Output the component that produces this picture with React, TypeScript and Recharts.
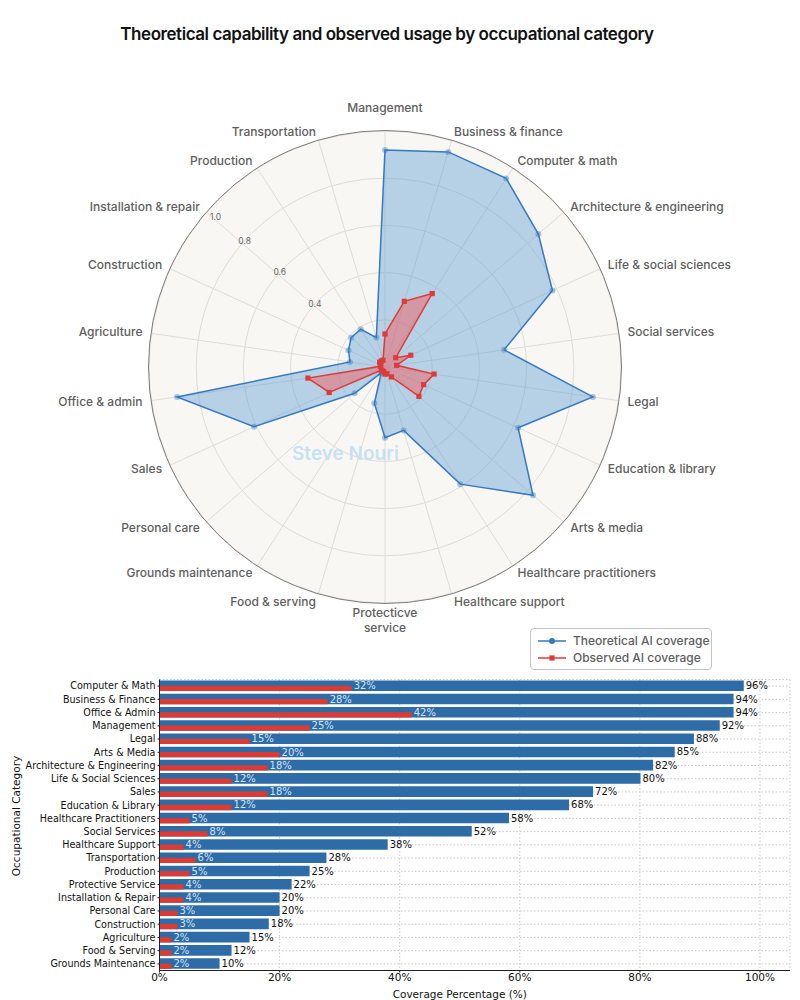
import {
    RadarChart,
    Radar,
    PolarGrid,
    PolarAngleAxis,
    PolarRadiusAxis,
    Legend,
    BarChart,
    Bar,
    XAxis,
    YAxis,
    CartesianGrid,
    LabelList,
} from "recharts";

// radar (clockwise from the top)
const radarCategories = [
    "Management",
    "Business & finance",
    "Computer & math",
    "Architecture & engineering",
    "Life & social sciences",
    "Social services",
    "Legal",
    "Education & library",
    "Arts & media",
    "Healthcare practitioners",
    "Healthcare support",
    "Protecticve\nservice",
    "Food & serving",
    "Grounds maintenance",
    "Personal care",
    "Sales",
    "Office & admin",
    "Agriculture",
    "Construction",
    "Installation & repair",
    "Production",
    "Transportation",
];
const radarTheoretical = [
    0.92, 0.95, 0.95, 0.86, 0.78, 0.51, 0.89, 0.62, 0.83, 0.59, 0.28, 0.3, 0.16, 0.03, 0.17,
    0.61, 0.89, 0.15, 0.17, 0.19, 0.19, 0.13,
];
const radarObserved = [
    0.14, 0.29, 0.37, 0.06, 0.12, 0.05, 0.21, 0.18, 0.19, 0.05, 0.03, 0.03, 0.02, 0.02, 0.02,
    0.26, 0.33, 0.02, 0.02, 0.03, 0.03, 0.03,
];
const radiusTicks = [0, 0.2, 0.4, 0.6, 0.8, 1.0];
const seriesNames = ["Theoretical AI coverage", "Observed AI coverage"];

// bars (top to bottom)
const barCategories = [
    "Computer & Math",
    "Business & Finance",
    "Office & Admin",
    "Management",
    "Legal",
    "Arts & Media",
    "Architecture & Engineering",
    "Life & Social Sciences",
    "Sales",
    "Education & Library",
    "Healthcare Practitioners",
    "Social Services",
    "Healthcare Support",
    "Transportation",
    "Production",
    "Protective Service",
    "Installation & Repair",
    "Personal Care",
    "Construction",
    "Agriculture",
    "Food & Serving",
    "Grounds Maintenance",
];
const barTheoretical = [
    97.3, 95.6, 95.6, 93.3, 89, 85.8, 82.2, 80.1, 72.2, 68.2, 58.2, 52, 38, 27.8, 25, 22, 20, 20, 18.2,
    15, 12, 10,
];
const barTheoreticalLabels = [
    "96%", "94%", "94%", "92%", "88%", "85%", "82%", "80%", "72%", "68%", "58%", "52%", "38%", "28%",
    "25%", "22%", "20%", "20%", "18%", "15%", "12%", "10%",
];
const barObserved = [32, 28, 42, 25, 15, 20, 18, 12, 18, 12, 5, 8, 4, 6, 5, 4, 4, 3, 3, 2, 2, 2];
const xTicks = [0, 20, 40, 60, 80, 100];

const CX = 385;
const CY = 367;
const R = 236;

const BLUE = "#3579c2";
const RED = "#dd3b3b";
const BAR_BLUE = "#2d6ca7";
const BAR_RED = "#dc3a33";
const SANS = "Inter, 'Noto Sans', sans-serif";
const MPL = "'DejaVu Sans', sans-serif";

const radarData = radarCategories.map((c, i) => ({
    category: c,
    theoretical: radarTheoretical[i],
    observed: radarObserved[i],
}));

const barData = barCategories.map((c, i) => ({
    category: c,
    theoretical: barTheoretical[i],
    theoreticalLabel: barTheoreticalLabels[i],
    observed: barObserved[i],
}));

function AngleTick(props: any) {
    const { x, y, textAnchor, payload } = props;
    const cy = props.cy ?? CY;
    const lines = String(payload.value).split("\n");
    let shift = 0;
    if (textAnchor === "middle") shift = y < cy ? -14 : 1;
    return (
        <text
            x={x}
            y={y + shift}
            textAnchor={textAnchor}
            fill="#5e5e5e"
            fontSize={12}
            fontWeight={500}
            fontFamily={SANS}
        >
            {lines.map((l, i) => (
                <tspan key={i} x={x} dy={i === 0 ? "0.35em" : "1.25em"}>
                    {l}
                </tspan>
            ))}
        </text>
    );
}

function RadiusTick(props: any) {
    const { x, y, payload } = props;
    const v = Number(payload.value);
    if (v < 0.3) return <g />;
    const inset = v >= 1 ? 1 : 0;
    return (
        <text
            x={x + inset * 6}
            y={y + inset * 8}
            textAnchor="middle"
            dominantBaseline="central"
            fontSize={8.5}
            fill="#6a6a6a"
            fontFamily={SANS}
        >
            {v.toFixed(1)}
        </text>
    );
}

function CategoryTick(props: any) {
    const { x, y, payload } = props;
    return (
        <text x={x} y={y} dy="0.35em" textAnchor="end" fontSize={9.6} fill="#111" fontFamily={MPL}>
            {payload.value}
        </text>
    );
}

const squareDot = (p: any) => (
    <rect key={`sq-${p.index}`} x={p.cx - 2.6} y={p.cy - 2.6} width={5.2} height={5.2} fill={RED} />
);

function RadarLegend({ payload }: any) {
    return (
        <div
            style={{
                boxSizing: "border-box",
                width: 182,
                height: 42,
                border: "1px solid #c4c4c4",
                borderRadius: 4,
                background: "#fff",
                padding: "3px 0 0 6px",
                fontFamily: SANS,
                fontWeight: 500,
                fontSize: 12,
                color: "#5e5e5e",
            }}
        >
            {(payload || []).map((item: any, i: number) => (
                <div key={item.value} style={{ display: "flex", alignItems: "center", height: 17 }}>
                    <svg width={30} height={10} style={{ marginRight: 6 }}>
                        <line x1={1} y1={5} x2={29} y2={5} stroke={item.color} strokeWidth={1.5} />
                        {i === 0 ? (
                            <circle cx={15} cy={5} r={3} fill={item.color} />
                        ) : (
                            <rect x={12.4} y={2.4} width={5.2} height={5.2} fill={item.color} />
                        )}
                    </svg>
                    <span>{item.value}</span>
                </div>
            ))}
        </div>
    );
}

export default function App() {
    return (
        <div
            style={{
                position: "absolute",
                left: 0,
                top: 0,
                width: 800,
                height: 1000,
                background: "#fff",
                overflow: "hidden",
            }}
        >
            <div
                style={{
                    position: "absolute",
                    left: 0,
                    top: 24,
                    width: 774,
                    textAlign: "center",
                    fontFamily: SANS,
                    fontWeight: 600,
                    fontSize: 17,
                    letterSpacing: -0.45,
                    color: "#111",
                }}
            >
                Theoretical capability and observed usage by occupational category
            </div>

            <div
                style={{
                    position: "absolute",
                    left: CX - R,
                    top: CY - R,
                    width: 2 * R,
                    height: 2 * R,
                    borderRadius: "50%",
                    background: "#f8f7f3",
                }}
            />

            <div style={{ position: "absolute", left: 0, top: 0 }}>
                <RadarChart
                    width={800}
                    height={672}
                    data={radarData}
                    cx={CX}
                    cy={CY}
                    outerRadius={R}
                    margin={{ top: 0, right: 0, bottom: 0, left: 0 }}
                >
                    <PolarGrid gridType="circle" stroke="#dedcd7" strokeWidth={1} />
                    <PolarAngleAxis
                        dataKey="category"
                        tick={AngleTick}
                        tickLine={false}
                        axisLine={false}
                        tickSize={9}
                    />
                    <PolarRadiusAxis
                        type="number"
                        domain={[0, 1]}
                        ticks={radiusTicks as any}
                        tickCount={6}
                        allowDecimals={true}
                        angle={138}
                        axisLine={false}
                        tickLine={false}
                        tick={RadiusTick}
                    />
                    <Radar
                        name={seriesNames[0]}
                        dataKey="theoretical"
                        stroke={BLUE}
                        strokeWidth={1.5}
                        fill="#5b9bd5"
                        fillOpacity={0.42}
                        dot={{ r: 3, fill: BLUE, stroke: BLUE, strokeWidth: 0 }}
                        isAnimationActive={false}
                    />
                    <Radar
                        name={seriesNames[1]}
                        dataKey="observed"
                        stroke={RED}
                        strokeWidth={1.5}
                        fill="#f55a5a"
                        fillOpacity={0.47}
                        dot={squareDot}
                        isAnimationActive={false}
                    />
                    <Legend
                        verticalAlign="bottom"
                        align="left"
                        content={RadarLegend}
                        itemSorter={(item: any) => seriesNames.indexOf(item.value)}
                        wrapperStyle={{
                            position: "absolute",
                            left: 530,
                            top: 628,
                            bottom: "auto",
                            width: 182,
                            height: 42,
                        }}
                    />
                </RadarChart>
            </div>

            <div
                style={{
                    position: "absolute",
                    left: CX - R - 1,
                    top: CY - R - 1,
                    width: 2 * R + 2,
                    height: 2 * R + 2,
                    boxSizing: "border-box",
                    borderRadius: "50%",
                    border: "1.3px solid #7d7d7d",
                    pointerEvents: "none",
                }}
            />

            <div
                style={{
                    position: "absolute",
                    left: 292,
                    top: 442,
                    fontFamily: SANS,
                    fontWeight: 600,
                    fontSize: 19,
                    color: "rgba(190, 222, 245, 0.85)",
                    pointerEvents: "none",
                }}
            >
                Steve Nouri
            </div>

            <div style={{ position: "absolute", left: 0, top: 670 }}>
                <BarChart
                    layout="vertical"
                    width={800}
                    height={330}
                    data={barData}
                    margin={{ top: 9.5, right: 10, bottom: 0, left: 0 }}
                    barGap={-5.3}
                >
                    <CartesianGrid strokeDasharray="1.5 2" stroke="#c8c8c8" />
                    <XAxis
                        type="number"
                        domain={[0, 105]}
                        ticks={xTicks}
                        tickFormatter={(v) => `${v}%`}
                        height={29.5}
                        tickSize={2}
                        tickMargin={1}
                        stroke="#222"
                        tick={{ fontSize: 10.5, fill: "#111", fontFamily: MPL }}
                        label={{
                            value: "Coverage Percentage (%)",
                            position: "insideBottom",
                            offset: 2,
                            dx: -15,
                            fontSize: 10.5,
                            fill: "#111",
                            fontFamily: MPL,
                        }}
                    />
                    <YAxis
                        type="category"
                        dataKey="category"
                        width={159.5}
                        interval={0}
                        tickSize={2}
                        tickMargin={2}
                        stroke="#222"
                        tick={CategoryTick}
                        label={{
                            value: "Occupational Category",
                            angle: -90,
                            position: "center",
                            dx: -63,
                            dy: -9,
                            fontSize: 10.5,
                            fill: "#111",
                            fontFamily: MPL,
                        }}
                    />
                    <Bar dataKey="theoretical" fill={BAR_BLUE} barSize={10.6} isAnimationActive={false}>
                        <LabelList
                            dataKey="theoreticalLabel"
                            position="right"
                            offset={2}
                            fill="#111"
                            fontSize={10}
                            fontFamily={MPL}
                        />
                    </Bar>
                    <Bar dataKey="observed" fill={BAR_RED} barSize={5.3} isAnimationActive={false}>
                        <LabelList
                            dataKey="observed"
                            position="right"
                            offset={2}
                            dy={-2.6}
                            formatter={(v: any) => `${v}%`}
                            fill="#d3e5f6"
                            fontSize={10}
                            fontFamily={MPL}
                        />
                    </Bar>
                </BarChart>
            </div>
        </div>
    );
}
